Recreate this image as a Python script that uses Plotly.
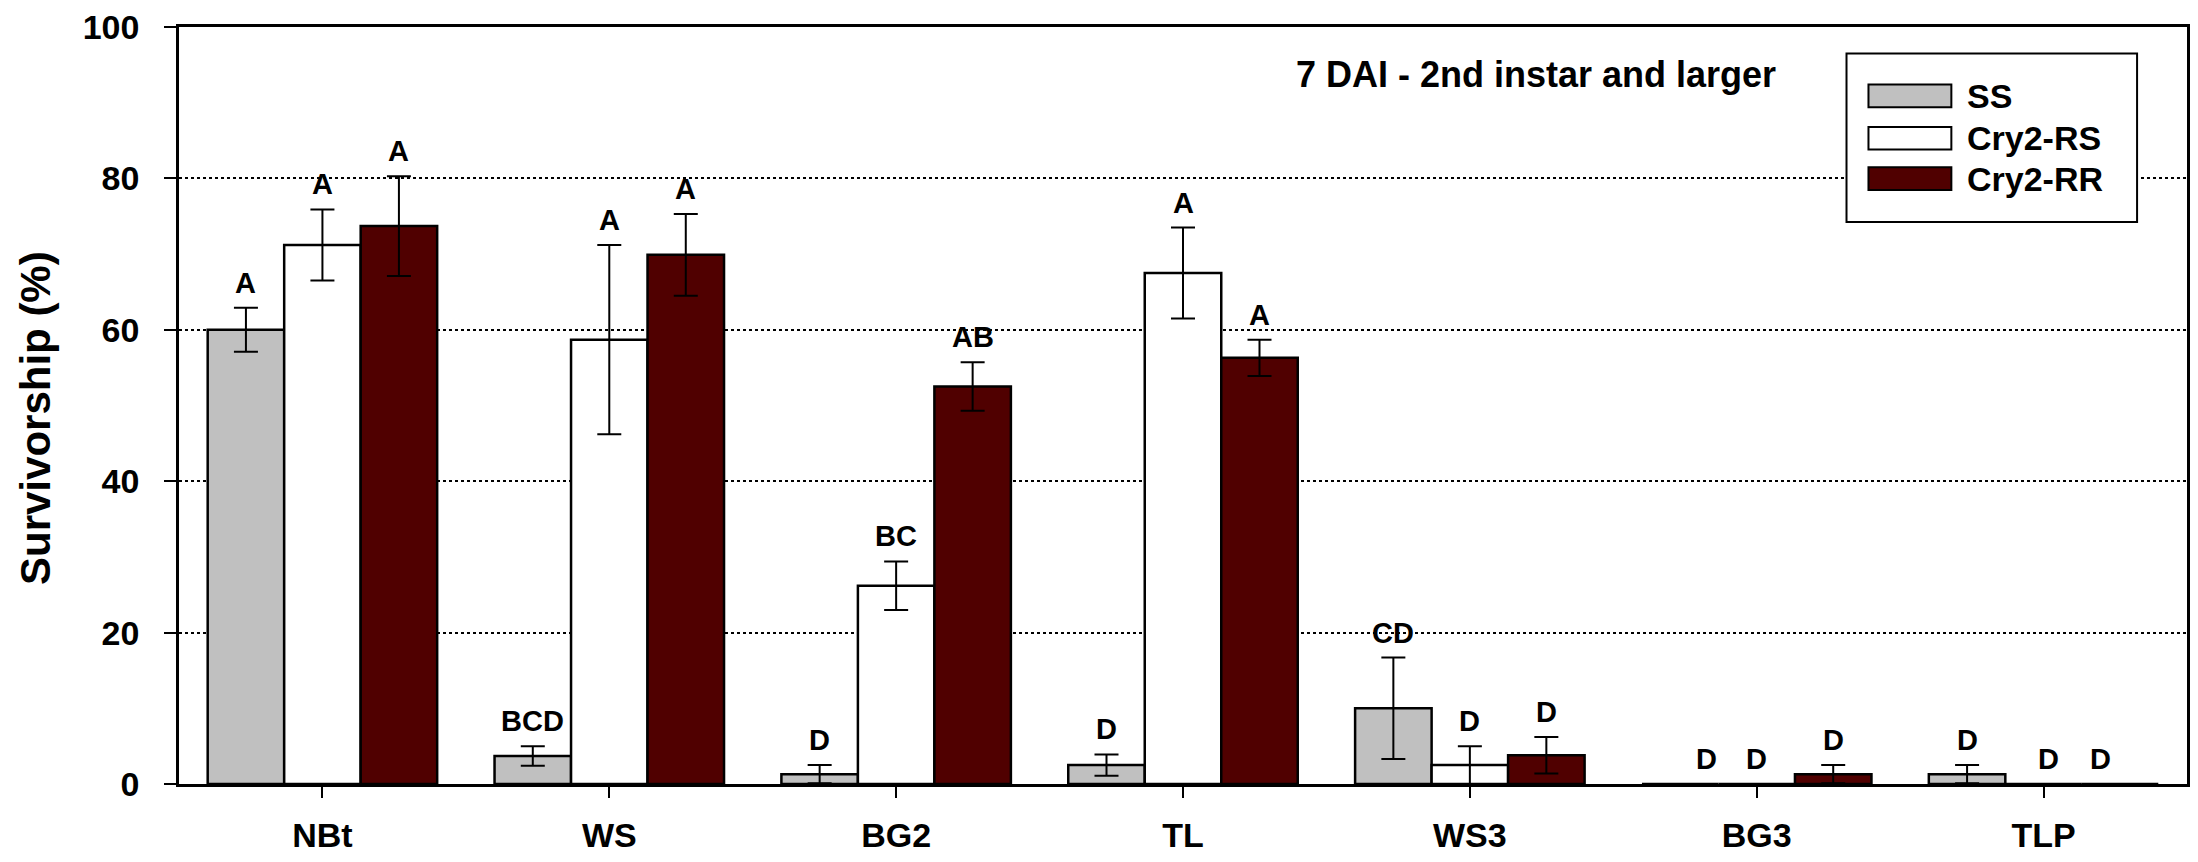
import plotly.graph_objects as go

# ---------------- data ----------------
categories = ["NBt", "WS", "BG2", "TL", "WS3", "BG3", "TLP"]
series_names = ["SS", "Cry2-RS", "Cry2-RR"]

ss_values = [60.0, 3.7, 1.3, 2.5, 10.0, 0.0, 1.3]
ss_errors = [2.9, 1.3, 1.2, 1.4, 6.7, 0.0, 1.2]
ss_letters = ["A", "BCD", "D", "D", "CD", "D", "D"]

rs_values = [71.2, 58.7, 26.2, 67.5, 2.5, 0.0, 0.0]
rs_errors = [4.7, 12.5, 3.2, 6.0, 2.5, 0.0, 0.0]
rs_letters = ["A", "A", "BC", "A", "D", "D", "D"]

rr_values = [73.7, 69.9, 52.5, 56.3, 3.8, 1.3, 0.0]
rr_errors = [6.6, 5.4, 3.2, 2.4, 2.4, 1.2, 0.0]
rr_letters = ["A", "A", "AB", "A", "D", "D", "D"]

y_ticks = [0, 20, 40, 60, 80, 100]
chart_title = "7 DAI - 2nd instar and larger"
y_title = "Survivorship (%)"

# ---------------- style / layout ----------------
W, H = 2198, 862
L, R, T, B = 179, 2190, 23, 792
BARGAP = 0.2
colors = ["#c0c0c0", "#ffffff", "#500000"]
FONT = "Liberation Sans, Arial, sans-serif"
NARROW = "Liberation Sans Narrow, Arial Narrow, Liberation Sans, Arial, sans-serif"

# horizontal nudges (px) for letters sitting on empty bars
label_nudge_px = {("BG3", 0): 26, ("TLP", 1): 5, ("TLP", 2): -20}


def px(x):
    return (x - L) / (R - L)


def py(y):
    return (B - y) / (B - T)


all_vals = [ss_values, rs_values, rr_values]
all_errs = [ss_errors, rs_errors, rr_errors]
all_letters = [ss_letters, rs_letters, rr_letters]

fig = go.Figure()
for j in range(3):
    fig.add_trace(go.Bar(
        x=categories, y=all_vals[j], name=series_names[j],
        marker=dict(color=colors[j], line=dict(color="black", width=2.5)),
        error_y=dict(type="data", array=all_errs[j], visible=True,
                     color="black", thickness=2, width=12),
        showlegend=False,
    ))

slot = (1 - BARGAP) / 3
annotations = []
for j in range(3):
    for i, cat in enumerate(categories):
        top = all_vals[j][i] + all_errs[j][i]
        annotations.append(dict(
            x=i + (j - 1) * slot, y=top, xref="x", yref="y",
            text="<b>%s</b>" % all_letters[j][i], showarrow=False,
            xanchor="center", yanchor="bottom", yshift=7,
            xshift=label_nudge_px.get((cat, j), 0),
            font=dict(family=FONT, size=29, color="black"),
        ))

# chart title
annotations.append(dict(
    x=px(1538), y=py(71), xref="paper", yref="paper", text="<b>%s</b>" % chart_title,
    showarrow=False, xanchor="center", yanchor="middle",
    font=dict(family=FONT, size=36, color="black"),
))
# y-axis title
annotations.append(dict(
    x=px(36), y=py(420), xref="paper", yref="paper", text="<b>%s</b>" % y_title,
    showarrow=False, xanchor="center", yanchor="middle", textangle=-90,
    font=dict(family=NARROW, size=42, color="black"),
))

# custom legend
shapes = [dict(type="rect", xref="paper", yref="paper",
               x0=px(1849), x1=px(2140), y0=py(221), y1=py(50),
               line=dict(color="black", width=2), fillcolor="white", layer="above")]
row_y = [93, 136, 177]
for j in range(3):
    shapes.append(dict(type="rect", xref="paper", yref="paper",
                       x0=px(1871), x1=px(1954), y0=py(row_y[j] + 11.5), y1=py(row_y[j] - 11.5),
                       line=dict(color="black", width=2), fillcolor=colors[j], layer="above"))
    annotations.append(dict(
        x=px(1968), y=py(row_y[j]), xref="paper", yref="paper",
        text="<b>%s</b>" % series_names[j], showarrow=False,
        xanchor="left", yanchor="middle",
        font=dict(family=FONT, size=34, color="black"),
    ))

fig.update_layout(
    width=W, height=H,
    margin=dict(l=L, r=W - R, t=T, b=H - B, pad=0),
    paper_bgcolor="white", plot_bgcolor="white",
    barmode="group", bargap=BARGAP, bargroupgap=0,
    annotations=annotations, shapes=shapes,
    font=dict(family=FONT, color="black"),
)
fig.update_xaxes(
    type="category", range=[-0.5, 6.5],
    showline=True, linecolor="black", linewidth=2.5, mirror=True,
    ticks="outside", ticklen=11, tickwidth=2, tickcolor="black",
    tickfont=dict(family=FONT, size=34, color="black"),
    tickvals=categories, ticktext=["<b>%s</b>" % c for c in categories],
    showgrid=False, ticklabelstandoff=8,
)
fig.update_yaxes(
    range=[0, 100], tickvals=y_ticks, ticktext=["<b>%d</b>" % v for v in y_ticks],
    showline=True, linecolor="black", linewidth=2.5, mirror=True,
    ticks="outside", ticklen=12, tickwidth=2, tickcolor="black",
    tickfont=dict(family=FONT, size=34, color="black"),
    showgrid=True, gridcolor="black", gridwidth=2, griddash="dot",
    zeroline=False, ticklabelstandoff=18,
)

fig.write_html("out.html")
